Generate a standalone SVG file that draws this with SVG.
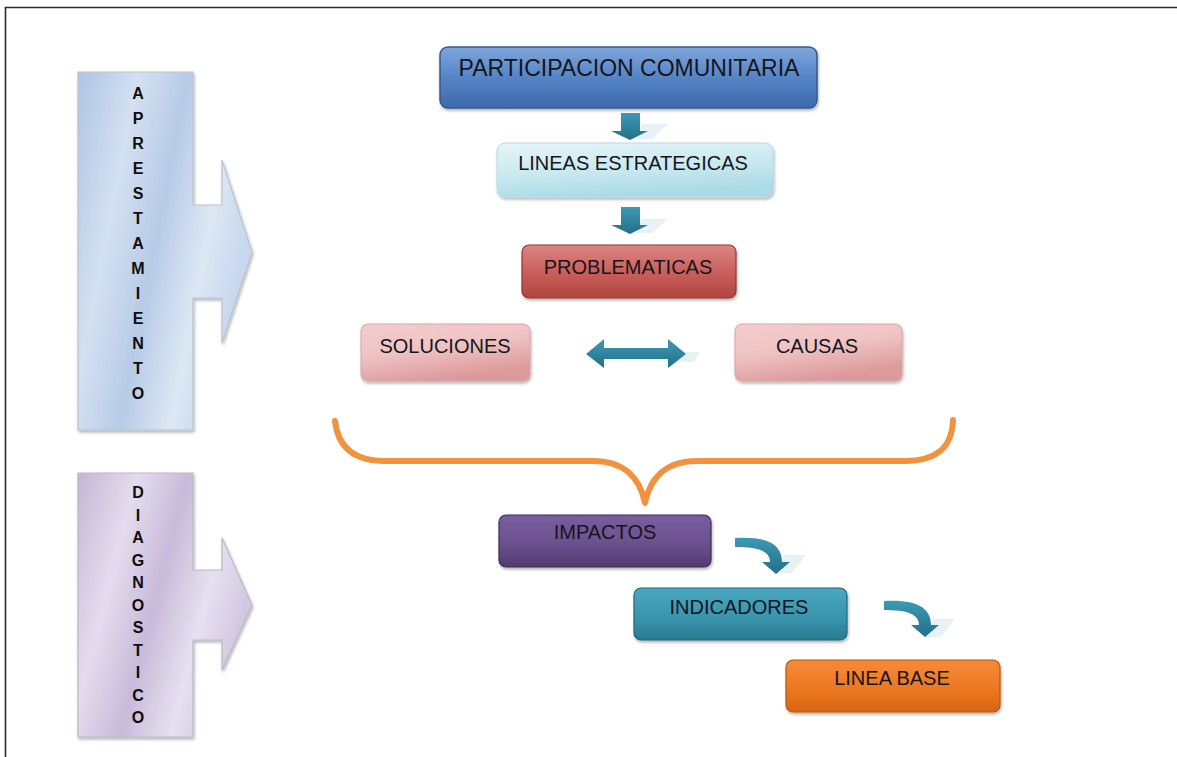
<svg xmlns="http://www.w3.org/2000/svg" width="1177" height="757" viewBox="0 0 1177 757">
<style>
.lbl{font-family:"Liberation Sans",Arial,sans-serif;font-size:20px;fill:#15151c;text-anchor:middle}
.vl{font-family:"Liberation Sans",Arial,sans-serif;font-weight:bold;font-size:16px;fill:#0d0d0d;text-anchor:middle}
.box{filter:url(#sh)}
.brace{fill:none;stroke:#f0923e;stroke-width:6;stroke-linecap:round;stroke-linejoin:round}
.tealA{fill:url(#gTeal)}
.refl{fill:#cfe6ee;opacity:0.5}
</style>
<defs>
<filter id="sh" x="-10%" y="-10%" width="120%" height="130%">
<feDropShadow dx="1" dy="2" stdDeviation="1.5" flood-color="#000" flood-opacity="0.3"/>
</filter>
<linearGradient id="gBlueArr" x1="0" y1="0" x2="1" y2="0.4">
<stop offset="0" stop-color="#aec5e4"/>
<stop offset="0.3" stop-color="#d3e0f1"/>
<stop offset="0.55" stop-color="#b7cbe7"/>
<stop offset="0.8" stop-color="#dde7f4"/>
<stop offset="1" stop-color="#c7d7ee"/>
</linearGradient>
<linearGradient id="gPurArr" x1="0" y1="0" x2="1" y2="0.4">
<stop offset="0" stop-color="#c4b6d6"/>
<stop offset="0.3" stop-color="#e4dcee"/>
<stop offset="0.55" stop-color="#c8bad9"/>
<stop offset="0.8" stop-color="#e6e0ef"/>
<stop offset="1" stop-color="#d3c8e2"/>
</linearGradient>
<linearGradient id="gTitle" x1="0" y1="0" x2="0" y2="1">
<stop offset="0" stop-color="#7fa6dc"/>
<stop offset="0.5" stop-color="#5584c6"/>
<stop offset="1" stop-color="#3d69ad"/>
</linearGradient>
<linearGradient id="gLineas" x1="0" y1="0" x2="0.3" y2="1">
<stop offset="0" stop-color="#e6f5f8"/>
<stop offset="0.6" stop-color="#c7e8ef"/>
<stop offset="1" stop-color="#abdbe6"/>
</linearGradient>
<linearGradient id="gProb" x1="0" y1="0" x2="0" y2="1">
<stop offset="0" stop-color="#de8583"/>
<stop offset="0.5" stop-color="#c9605c"/>
<stop offset="1" stop-color="#b2453f"/>
</linearGradient>
<linearGradient id="gPink" x1="0" y1="0" x2="0.4" y2="1">
<stop offset="0" stop-color="#f3cccc"/>
<stop offset="0.5" stop-color="#efc3c3"/>
<stop offset="1" stop-color="#dd9a9b"/>
</linearGradient>
<linearGradient id="gImp" x1="0" y1="0" x2="0" y2="1">
<stop offset="0" stop-color="#7a5d9f"/>
<stop offset="0.6" stop-color="#6a4f8c"/>
<stop offset="1" stop-color="#503a6e"/>
</linearGradient>
<linearGradient id="gInd" x1="0" y1="0" x2="0" y2="1">
<stop offset="0" stop-color="#4aa8c1"/>
<stop offset="0.6" stop-color="#3893ab"/>
<stop offset="1" stop-color="#2a7a90"/>
</linearGradient>
<linearGradient id="gBase" x1="0" y1="0" x2="0" y2="1">
<stop offset="0" stop-color="#f58b3a"/>
<stop offset="0.6" stop-color="#eb7620"/>
<stop offset="1" stop-color="#d66510"/>
</linearGradient>
<linearGradient id="gTeal" x1="0" y1="0" x2="0" y2="1">
<stop offset="0" stop-color="#3d9ab5"/>
<stop offset="1" stop-color="#236f88"/>
</linearGradient>
</defs>

<rect x="0" y="0" width="1177" height="757" fill="#fff"/>
<path d="M5.5,757 V7.5 H1177" fill="none" stroke="#2a2a2a" stroke-width="1.6"/>

<g id="aprestamiento">
<path d="M78,72 H193 V205 H222 V160 L252,252 L222,343 V298 H193 V430 H78 Z" fill="url(#gBlueArr)" stroke="#b9c3cf" stroke-width="1.2" class="box"/>
<text class="vl" x="138" y="99">A</text>
<text class="vl" x="138" y="124">P</text>
<text class="vl" x="138" y="149">R</text>
<text class="vl" x="138" y="174">E</text>
<text class="vl" x="138" y="199">S</text>
<text class="vl" x="138" y="224">T</text>
<text class="vl" x="138" y="249">A</text>
<text class="vl" x="138" y="274">M</text>
<text class="vl" x="138" y="299">I</text>
<text class="vl" x="138" y="324">E</text>
<text class="vl" x="138" y="349">N</text>
<text class="vl" x="138" y="374">T</text>
<text class="vl" x="138" y="399">O</text>
</g>

<g id="diagnostico">
<path d="M78,473 H193 V570 H222 V538 L252,605 L222,670 V640 H193 V737 H78 Z" fill="url(#gPurArr)" stroke="#bdb7c6" stroke-width="1.2" class="box"/>
<text class="vl" x="138" y="498">D</text>
<text class="vl" x="138" y="520.5">I</text>
<text class="vl" x="138" y="543">A</text>
<text class="vl" x="138" y="565.5">G</text>
<text class="vl" x="138" y="588">N</text>
<text class="vl" x="138" y="610.5">O</text>
<text class="vl" x="138" y="633">S</text>
<text class="vl" x="138" y="655.5">T</text>
<text class="vl" x="138" y="678">I</text>
<text class="vl" x="138" y="700.5">C</text>
<text class="vl" x="138" y="723">O</text>
</g>

<g id="participacion">
<rect x="440" y="47" width="377" height="61" rx="8" fill="url(#gTitle)" stroke="#35598c" stroke-width="1.5" class="box"/>
<text class="lbl" x="629" y="76" style="font-size:23px">PARTICIPACION COMUNITARIA</text>
</g>

<g id="lineas">
<rect x="497" y="143" width="276" height="54" rx="8" fill="url(#gLineas)" stroke="#b3dbe4" stroke-width="1" class="box"/>
<text class="lbl" x="633" y="170">LINEAS ESTRATEGICAS</text>
</g>

<g id="problematicas">
<rect x="522" y="245" width="214" height="53" rx="7" fill="url(#gProb)" stroke="#8e3a37" stroke-width="1.2" class="box"/>
<text class="lbl" x="628" y="274">PROBLEMATICAS</text>
</g>

<g id="soluciones">
<rect x="361" y="324" width="169" height="57" rx="7" fill="url(#gPink)" stroke="#d9a3a4" stroke-width="1" class="box"/>
<text class="lbl" x="445" y="353">SOLUCIONES</text>
</g>

<g id="causas">
<rect x="735" y="324" width="167" height="57" rx="7" fill="url(#gPink)" stroke="#d9a3a4" stroke-width="1" class="box"/>
<text class="lbl" x="817" y="353">CAUSAS</text>
</g>

<g id="impactos">
<rect x="499" y="515" width="212" height="52" rx="7" fill="url(#gImp)" stroke="#3f2f55" stroke-width="1.2" class="box"/>
<text class="lbl" x="605" y="539">IMPACTOS</text>
</g>

<g id="indicadores">
<rect x="634" y="588" width="213" height="52" rx="7" fill="url(#gInd)" stroke="#22697c" stroke-width="1.2" class="box"/>
<text class="lbl" x="739" y="614">INDICADORES</text>
</g>

<g id="linea-base">
<rect x="786" y="660" width="214" height="52" rx="7" fill="url(#gBase)" stroke="#b8580c" stroke-width="1.2" class="box"/>
<text class="lbl" x="892" y="685">LINEA BASE</text>
</g>

<g id="connectors">
<path class="refl" d="M642,124 L668,124 L652,139 L636,139 Z"/>
<path class="tealA" d="M621,113 H640 V131 H648 L630,140 L611,131 H621 Z"/>
<path class="refl" d="M642,219 L668,219 L652,233 L636,233 Z"/>
<path class="tealA" d="M621,207 H640 V225 H648 L630,234 L611,225 H621 Z"/>
<path class="refl" d="M670,352 L700,352 L694,362 L664,362 Z"/>
<path class="tealA" d="M586,354 L604,339 V348 H668 V339 L686,354 L668,368 V359 H604 V368 Z"/>
<path class="brace" d="M335,421 C338,448 355,461 385,461 L593,461 C624,461 640,478 645,503 C650,478 666,461 697,461 L905,461 C935,461 952,449 953,420"/>
<path class="refl" d="M784,555 L806,555 L792,573 L776,573 Z"/>
<path class="tealA" d="M735,538 C768,536 782,545 782,562 H790 L776,574 L762,562 H770 C770,551 758,547 735,547 Z"/>
<path class="refl" d="M933,619 L955,619 L941,637 L925,637 Z"/>
<path class="tealA" d="M884,601 C917,599 931,608 931,625 H939 L925,637 L911,625 H919 C919,614 907,610 884,610 Z"/>
</g>
</svg>
